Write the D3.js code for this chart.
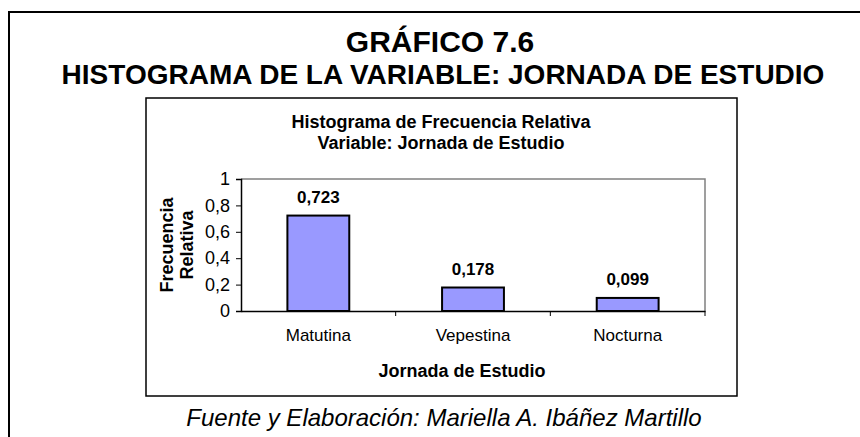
<!DOCTYPE html>
<html>
<head>
<meta charset="utf-8">
<script src="https://cdn.jsdelivr.net/npm/d3@7"></script>
<style>
  body { margin: 0; background: #fff; }
  text { font-family: "Liberation Sans", Arial, sans-serif; fill: #000; }
</style>
</head>
<body>
<div id="chart"></div>
<script>
var categories = ["Matutina", "Vepestina", "Nocturna"];
var values = [0.723, 0.178, 0.099];
var valueLabels = ["0,723", "0,178", "0,099"];
var yTicks = [0, 0.2, 0.4, 0.6, 0.8, 1];

var width = 860, height = 437;
var locale = d3.formatLocale({decimal: ",", thousands: ".", grouping: [3], currency: ["$", ""]});
var fmt = locale.format("~g");

var svg = d3.select("#chart").append("svg")
    .attr("width", width)
    .attr("height", height);

// outer frame (runs off the page on the right and bottom)
svg.append("path")
    .attr("d", "M9,450 L9,12 L870,12")
    .attr("fill", "none")
    .attr("stroke", "#000")
    .attr("stroke-width", 2);

svg.append("text")
    .attr("x", 440).attr("y", 52)
    .attr("text-anchor", "middle")
    .style("font-size", "30px").style("font-weight", "bold")
    .text("GRÁFICO 7.6");

svg.append("text")
    .attr("x", 443).attr("y", 84)
    .attr("text-anchor", "middle")
    .style("font-size", "28px").style("font-weight", "bold")
    .text("HISTOGRAMA DE LA VARIABLE: JORNADA DE ESTUDIO");

// chart box
svg.append("rect")
    .attr("x", 146).attr("y", 98)
    .attr("width", 591).attr("height", 298)
    .attr("fill", "#fff")
    .attr("stroke", "#000")
    .attr("stroke-width", 1.5);

svg.append("text")
    .attr("x", 441).attr("y", 128)
    .attr("text-anchor", "middle")
    .style("font-size", "18px").style("font-weight", "bold")
    .text("Histograma de Frecuencia Relativa");

svg.append("text")
    .attr("x", 441).attr("y", 149)
    .attr("text-anchor", "middle")
    .style("font-size", "18px").style("font-weight", "bold")
    .text("Variable: Jornada de Estudio");

var plot = {left: 241, top: 179, right: 705, bottom: 311};

var x = d3.scaleBand()
    .domain(categories)
    .range([plot.left, plot.right])
    .paddingInner(0.6)
    .paddingOuter(0.3);

var xTick = d3.scaleBand()
    .domain(categories)
    .range([plot.left, plot.right]);

var y = d3.scaleLinear()
    .domain([0, 1])
    .range([plot.bottom, plot.top]);

// plot area border (gray top and right)
svg.append("path")
    .attr("d", "M" + plot.left + "," + plot.top + " L" + plot.right + "," + plot.top + " L" + plot.right + "," + plot.bottom)
    .attr("fill", "none")
    .attr("stroke", "#808080")
    .attr("stroke-width", 1.5);

svg.selectAll(".bar")
    .data(values)
    .enter().append("rect")
    .attr("class", "bar")
    .attr("x", function(d, i) { return x(categories[i]); })
    .attr("y", function(d) { return y(d); })
    .attr("width", x.bandwidth())
    .attr("height", function(d) { return y(0) - y(d); })
    .attr("fill", "#9999ff")
    .attr("stroke", "#000")
    .attr("stroke-width", 2);

svg.selectAll(".vlabel")
    .data(values)
    .enter().append("text")
    .attr("class", "vlabel")
    .attr("x", function(d, i) { return x(categories[i]) + x.bandwidth() / 2; })
    .attr("y", function(d) { return y(d) - 13; })
    .attr("text-anchor", "middle")
    .style("font-size", "17px").style("font-weight", "bold")
    .text(function(d, i) { return valueLabels[i]; });

// y axis
var yAxis = d3.axisLeft(y)
    .tickValues(yTicks)
    .tickSize(5)
    .tickPadding(6)
    .tickFormat(fmt);

var gy = svg.append("g")
    .attr("transform", "translate(" + plot.left + ",0)")
    .call(yAxis);
gy.select(".domain").attr("stroke", "#000").attr("stroke-width", 1.5);
gy.selectAll(".tick line").attr("stroke", "#000");
gy.selectAll(".tick text").style("font-size", "18px").attr("font-family", null);

// x axis
var xAxis = d3.axisBottom(xTick)
    .tickSize(0)
    .tickPadding(18)
    .tickSizeOuter(0);

var gx = svg.append("g")
    .attr("transform", "translate(0," + plot.bottom + ")")
    .call(xAxis);
gx.select(".domain").attr("stroke", "#000").attr("stroke-width", 1.5);
gx.selectAll(".tick text").style("font-size", "17px").attr("font-family", null);

// category separator ticks
gx.selectAll(".sep")
    .data(categories)
    .enter().append("line")
    .attr("class", "sep")
    .attr("x1", function(d) { return xTick(d) + xTick.bandwidth(); })
    .attr("x2", function(d) { return xTick(d) + xTick.bandwidth(); })
    .attr("y1", 0).attr("y2", 5)
    .attr("stroke", "#000");

svg.append("text")
    .attr("x", 462).attr("y", 377)
    .attr("text-anchor", "middle")
    .style("font-size", "18px").style("font-weight", "bold")
    .text("Jornada de Estudio");

// y axis title, two lines
var yt = svg.append("text")
    .attr("transform", "translate(173,245) rotate(-90)")
    .attr("text-anchor", "middle")
    .style("font-size", "18px").style("font-weight", "bold");
yt.append("tspan").attr("x", 0).attr("y", 0).text("Frecuencia");
yt.append("tspan").attr("x", 0).attr("y", 20).text("Relativa");

svg.append("text")
    .attr("x", 444).attr("y", 426)
    .attr("text-anchor", "middle")
    .style("font-size", "24px").style("font-style", "italic")
    .text("Fuente y Elaboración: Mariella A. Ibáñez Martillo");
</script>
</body>
</html>
